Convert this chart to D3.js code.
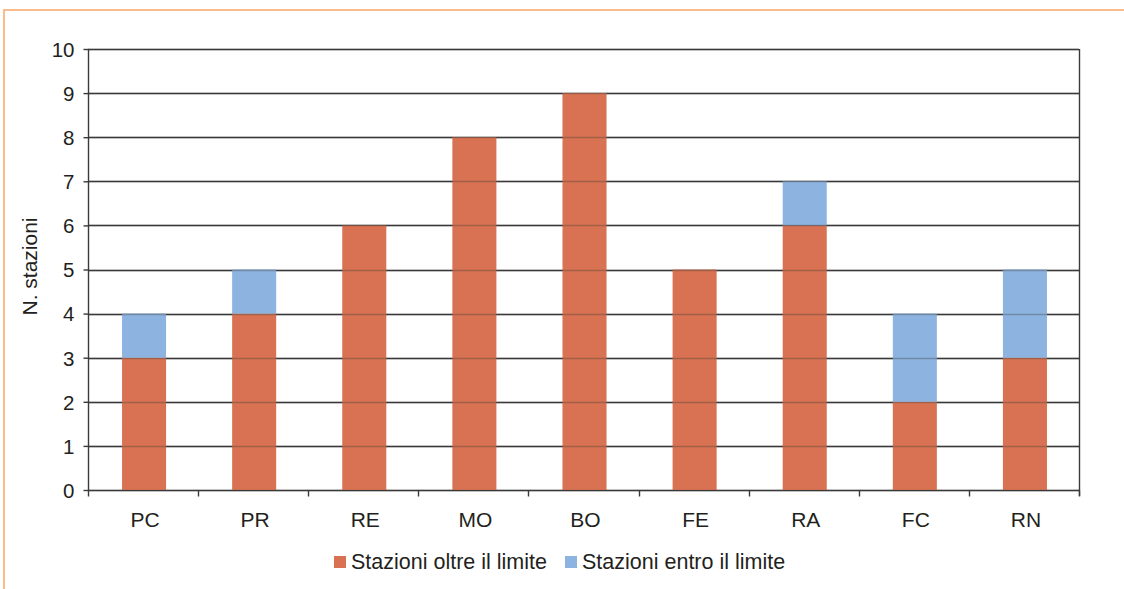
<!DOCTYPE html>
<html>
<head>
<meta charset="utf-8">
<script src="https://cdn.jsdelivr.net/npm/d3@7"></script>
<style>
  html, body { margin: 0; padding: 0; background: #fff; }
  svg { display: block; font-family: "Liberation Sans", Arial, Helvetica, sans-serif; }
</style>
</head>
<body>
<svg id="chart" width="1124" height="589"></svg>
<script>
// Province codes along the x axis
const categories = ["PC", "PR", "RE", "MO", "BO", "FE", "RA", "FC", "RN"];
// Stations above the limit (bottom segment)
const oltre = [3, 4, 6, 8, 9, 5, 6, 2, 3];
// Stations within the limit (stacked on top)
const entro = [1, 1, 0, 0, 0, 0, 1, 2, 2];
const yTicks = [0, 1, 2, 3, 4, 5, 6, 7, 8, 9, 10];
const seriesNames = ["Stazioni oltre il limite", "Stazioni entro il limite"];
const colors = ["#D97252", "#8DB4E0"];

const svg = d3.select("#chart");
const W = 1124, H = 589;
const margin = { left: 88, right: 1124 - 1079, top: 49, bottom: 589 - 490 };
const ink = "#231f20";
const gridColor = "#3a3a3a";

// page frame (top and left edges)
svg.append("line").attr("x1", 4).attr("x2", W).attr("y1", 10).attr("y2", 10)
  .attr("stroke", "#FABB8D").attr("stroke-width", 2);
svg.append("line").attr("x1", 4).attr("x2", 4).attr("y1", 9).attr("y2", H)
  .attr("stroke", "#FABB8D").attr("stroke-width", 2);

const x = d3.scaleBand().domain(categories)
  .range([margin.left, W - margin.right]).paddingInner(0).paddingOuter(0);
const y = d3.scaleLinear().domain([0, 10]).range([H - margin.bottom, margin.top]);

const rows = categories.map((c, i) => ({ cat: c, oltre: oltre[i], entro: entro[i] }));
const stack = d3.stack().keys(["oltre", "entro"])(rows);

// horizontal gridlines
svg.append("g").selectAll("line").data(yTicks).join("line")
  .attr("x1", margin.left).attr("x2", W - margin.right)
  .attr("y1", d => Math.round(y(d)) + 0.5).attr("y2", d => Math.round(y(d)) + 0.5)
  .attr("stroke", gridColor).attr("stroke-width", 1.4);

// stacked bars
const barW = x.bandwidth() * 0.4;
svg.append("g").selectAll("g").data(stack).join("g")
  .attr("fill", (d, i) => colors[i])
  .selectAll("rect").data(d => d.filter(s => s[1] > s[0])).join("rect")
  .attr("x", d => x(d.data.cat) + (x.bandwidth() - barW) / 2 + 1)
  .attr("width", barW)
  .attr("y", d => y(d[1]))
  .attr("height", d => y(d[0]) - y(d[1]));

// faint gridline traces across the bars
svg.append("g").selectAll("line").data(yTicks).join("line")
  .attr("x1", margin.left).attr("x2", W - margin.right)
  .attr("y1", d => Math.round(y(d)) + 0.5).attr("y2", d => Math.round(y(d)) + 0.5)
  .attr("stroke", gridColor).attr("stroke-width", 1.4).attr("stroke-opacity", 0.35);

// y axis
const yAxis = svg.append("g").attr("transform", `translate(${margin.left + 0.5},0)`)
  .call(d3.axisLeft(y).tickValues(yTicks).tickSize(5).tickPadding(9));
yAxis.attr("font-size", null).attr("font-family", null);
yAxis.select(".domain").attr("stroke", gridColor).attr("stroke-width", 1.4)
  .attr("d", `M0,${y(10)}V${y(0)}`);
yAxis.selectAll(".tick line").attr("stroke", gridColor).attr("stroke-width", 1.4);
yAxis.selectAll("text").style("font-size", "20.5px").attr("fill", ink).attr("dy", "0.36em");

// x axis: ticks at category boundaries
const xAxisG = svg.append("g").attr("transform", `translate(0,${Math.round(y(0)) + 0.5})`);
const bounds = categories.map(c => x(c)).concat([x(categories[categories.length - 1]) + x.bandwidth()]);
xAxisG.selectAll("line.b").data(bounds).join("line")
  .attr("x1", d => Math.round(d) + 0.5).attr("x2", d => Math.round(d) + 0.5)
  .attr("y1", 0).attr("y2", 6)
  .attr("stroke", gridColor).attr("stroke-width", 1.4);
xAxisG.selectAll("text").data(categories).join("text")
  .attr("x", d => x(d) + x.bandwidth() / 2 + 2)
  .attr("y", 36)
  .attr("text-anchor", "middle")
  .style("font-size", "21px").attr("fill", ink)
  .text(d => d);

// right border
svg.append("line")
  .attr("x1", W - margin.right + 0.5).attr("x2", W - margin.right + 0.5)
  .attr("y1", y(10)).attr("y2", y(0) + 6)
  .attr("stroke", gridColor).attr("stroke-width", 1.4);

// y axis title
svg.append("text")
  .attr("transform", `translate(37,${(y(0) + y(10)) / 2 - 3}) rotate(-90)`)
  .attr("text-anchor", "middle")
  .style("font-size", "21px").attr("fill", ink)
  .text("N. stazioni");

// legend
const legendX = [334, 565];
const lg = svg.append("g").selectAll("g").data(seriesNames).join("g")
  .attr("transform", (d, i) => `translate(${legendX[i]},556)`);
lg.append("rect").attr("width", 12).attr("height", 12).attr("fill", (d, i) => colors[i]);
lg.append("text").attr("x", 17).attr("y", 13).style("font-size", "21.5px")
  .attr("fill", ink).text(d => d);
</script>
</body>
</html>
